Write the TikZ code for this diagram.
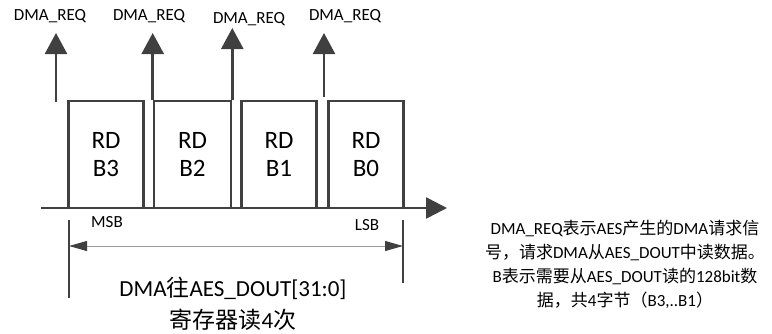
\documentclass[tikz,border=0pt]{standalone}
\usepackage{fontspec}
\setmainfont{Carlito}
\newfontfamily\cjk{Noto Sans CJK SC}
\newcommand{\zh}[1]{{\cjk #1}}
\usetikzlibrary{arrows.meta}
\definecolor{linegray}{HTML}{404040}
\definecolor{dimgray}{HTML}{9A9A9A}

\begin{document}
\begin{tikzpicture}[
    x=1pt, y=-1pt,
    rd box/.style={draw=linegray, line width=2.6pt, fill=white, minimum width=75pt, minimum height=107pt, inner sep=0pt, align=center, font=\fontsize{25}{28}\selectfont},
    req label/.style={anchor=base, inner sep=0pt, font=\fontsize{17}{20}\selectfont},
    bit label/.style={inner sep=0pt, font=\fontsize{17}{20}\selectfont},
    req arrow/.style={draw=linegray, line width=2.6pt, -{Triangle[length=21pt, width=22pt]}},
    axis arrow/.style={draw=linegray, line width=2.6pt, -{Triangle[length=21pt, width=21pt]}},
    ext line/.style={draw=linegray, line width=1.5pt},
    dim arrow/.style={draw=dimgray, line width=1pt, {Triangle[length=18pt, width=10pt, color=linegray]}-{Triangle[length=18pt, width=10pt, color=linegray]}}
]
\useasboundingbox (0,0) rectangle (772,333);

% 时间轴
\coordinate (ax0) at (41,208);
\coordinate (ax1) at (447,208);
\draw[axis arrow] (ax0) -- (ax1);

% 四次读操作: B3 (MSB) ... B0 (LSB)
\node[rd box] (B3) at (106,154.5) {RD\\B3};
\node[rd box, minimum width=77pt] (B2) at (192.5,154.5) {RD\\B2};
\node[rd box] (B1) at (279,154.5) {RD\\B1};
\node[rd box] (B0) at (366,154.5) {RD\\B0};

% DMA 请求
\node[req label] (Q3) at (50,20)  {DMA\_REQ};
\node[req label] (Q2) at (149,20) {DMA\_REQ};
\node[req label] (Q1) at (249,23) {DMA\_REQ};
\node[req label] (Q0) at (345,20) {DMA\_REQ};

\coordinate (f3) at (56,102);   \coordinate (t3) at (56,33);
\coordinate (t2) at (B2.north west |- 0,33);
\coordinate (t1) at (B2.north east |- 0,28);
\coordinate (f0) at (324,97);   \coordinate (t0) at (324,33);
\draw[req arrow] (f3) -- (t3);
\draw[req arrow] (B2.north west) -- (t2);
\draw[req arrow] (B2.north east) -- (t1);
\draw[req arrow] (f0) -- (t0);

\node[bit label] (msb) at (107,222) {MSB};
\node[bit label] (lsb) at (367,225) {LSB};

% 宽度标注
\coordinate (e3a) at (69,220);  \coordinate (e3b) at (69,298);
\coordinate (e0a) at (403,220); \coordinate (e0b) at (403,283);
\draw[ext line] (e3a) -- (e3b);
\draw[ext line] (e0a) -- (e0b);
\coordinate (d3) at (69,246);
\coordinate (d0) at (403,246);
\draw[dim arrow] (d3) -- (d0);

\node[align=center, inner sep=0pt, font=\fontsize{23}{32}\selectfont] (note) at (233,304)
    {DMA\zh{往}AES\_DOUT[31:0]\\\zh{寄存器读}4\zh{次}};

% 说明
\node[align=center, inner sep=0pt, font=\fontsize{17}{24}\selectfont] (expl) at (625,264)
    {DMA\_REQ\zh{表示}AES\zh{产生的}DMA\zh{请求信}\\
     \zh{号，请求}DMA\zh{从}AES\_DOUT\zh{中读数据。}\\
     B\zh{表示需要从}AES\_DOUT\zh{读的}128bit\zh{数}\\
     \zh{据，共}4\zh{字节（}B3,..B1\zh{）}};

\end{tikzpicture}
\end{document}
